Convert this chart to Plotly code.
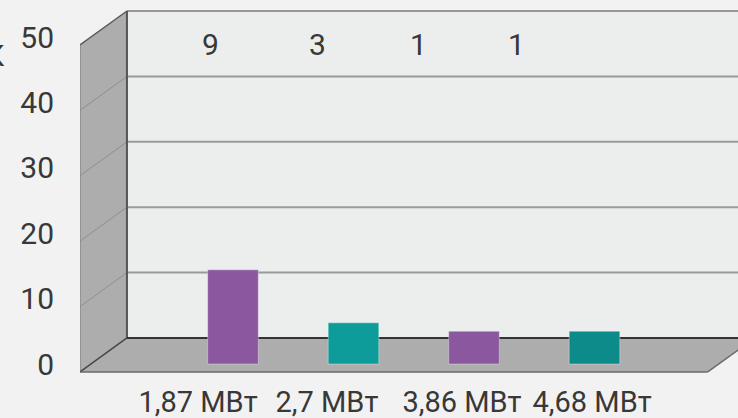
import plotly.graph_objects as go

# data
categories = ["1,87 МВт", "2,7 МВт", "3,86 МВт", "4,68 МВт"]
values = [14.4, 6.3, 5.0, 5.0]
counts = ["9", "3", "1", "1"]
y_ticks = [0, 10, 20, 30, 40, 50]
bar_colors = ["#8b579e", "#0e9c9b", "#8b579e", "#0d8a8a"]

# pseudo-3d box geometry, expressed in the bar plane's data units
WALL_LEFT = -1.18
FLOOR_RIGHT = 4.03
BACK_DX, BACK_DY = 0.30, 3.98
FRONT_DX, FRONT_DY = -0.09, -1.22
Y_TOP = 50
LABEL_X = [-0.29, 0.78, 1.90, 2.98]
COUNT_X = [-0.19, 0.70, 1.54, 2.35]
COUNT_Y = 48.8

FONT = "Roboto, Liberation Sans, sans-serif"
TEXT_COLOR = "#383838"


def path(points):
    return "M " + " L ".join(f"{x},{y}" for x, y in points) + " Z"


def line(x0, y0, x1, y1, color, width):
    return dict(type="line", xref="x", yref="y", x0=x0, y0=y0, x1=x1, y1=y1,
                line=dict(color=color, width=width), layer="below")


fl, bl = WALL_LEFT + FRONT_DX, WALL_LEFT + BACK_DX
fr, br = FLOOR_RIGHT + FRONT_DX, FLOOR_RIGHT + BACK_DX

shapes = [
    # back wall
    dict(type="rect", xref="x", yref="y", x0=bl, x1=br, y0=BACK_DY, y1=Y_TOP + BACK_DY,
         fillcolor="#eceded", line=dict(width=0), layer="below"),
    # side wall
    dict(type="path", xref="x", yref="y", layer="below", fillcolor="#adadad", line=dict(width=0),
         path=path([(fl, FRONT_DY), (fl, Y_TOP + FRONT_DY), (bl, Y_TOP + BACK_DY), (bl, BACK_DY)])),
    # floor
    dict(type="path", xref="x", yref="y", layer="below", fillcolor="#adadad", line=dict(width=0),
         path=path([(fl, FRONT_DY), (bl, BACK_DY), (br, BACK_DY), (fr, FRONT_DY)])),
]

for v in y_ticks[1:-1]:
    shapes.append(line(bl, v + BACK_DY, br, v + BACK_DY, "#9a9a9a", 2))
    shapes.append(line(fl, v + FRONT_DY, bl, v + BACK_DY, "#8e8e8e", 1))

shapes += [
    line(bl, Y_TOP + BACK_DY, br, Y_TOP + BACK_DY, "#7a7a7a", 1.5),
    line(fl, Y_TOP + FRONT_DY, bl, Y_TOP + BACK_DY, "#5a5a5a", 1.5),
    line(bl, BACK_DY, bl, Y_TOP + BACK_DY, "#555555", 2),
    line(fl, FRONT_DY, fl, Y_TOP + FRONT_DY, "#8a8a8a", 1.5),
    line(bl, BACK_DY, br, BACK_DY, "#333333", 2),
    line(fl, FRONT_DY, bl, BACK_DY, "#444444", 1.5),
    line(fl, FRONT_DY, fr, FRONT_DY, "#6a6a6a", 1.5),
    line(fr, FRONT_DY, br, BACK_DY, "#6a6a6a", 1.5),
]

fig = go.Figure()

fig.add_trace(
    go.Bar(
        x=list(range(len(categories))),
        y=values,
        width=0.42,
        marker=dict(color=bar_colors, line=dict(color="rgba(255,255,255,0.35)", width=1)),
        hoverinfo="skip",
    )
)

annotations = [
    dict(x=x, y=COUNT_Y, xref="x", yref="y", text=t, showarrow=False,
         font=dict(family=FONT, size=30, color=TEXT_COLOR))
    for x, t in zip(COUNT_X, counts)
]
annotations.append(
    dict(x=0, y=0.905, xref="paper", yref="paper", text="К", showarrow=False,
         xanchor="right", xshift=-73, font=dict(family=FONT, size=30, color=TEXT_COLOR))
)

fig.update_layout(
    width=738,
    height=418,
    margin={"l": 80, "r": 0, "t": 0, "b": 40},
    paper_bgcolor="#f2f2f2",
    plot_bgcolor="#f2f2f2",
    showlegend=False,
    shapes=shapes,
    annotations=annotations,
    xaxis=dict(
        range=[-1.2697, 4.191],
        tickvals=LABEL_X,
        ticktext=categories,
        tickangle=0,
        automargin=False,
        showgrid=False,
        zeroline=False,
        showline=False,
        ticks="",
        ticklabelstandoff=4,
        tickfont=dict(family=FONT, size=29, color=TEXT_COLOR),
    ),
    yaxis=dict(
        range=[-2.14, 55.66],
        tickvals=y_ticks,
        ticktext=[str(v) for v in y_ticks],
        automargin=False,
        showgrid=False,
        zeroline=False,
        showline=False,
        ticks="",
        ticklabelstandoff=25,
        tickfont=dict(family=FONT, size=30, color=TEXT_COLOR),
    ),
)

# drop the page's default body margin so the 738x418 figure fills the window
fig.write_html("out.html", config={"displayModeBar": False},
               post_script="document.body.style.margin = '0';")
